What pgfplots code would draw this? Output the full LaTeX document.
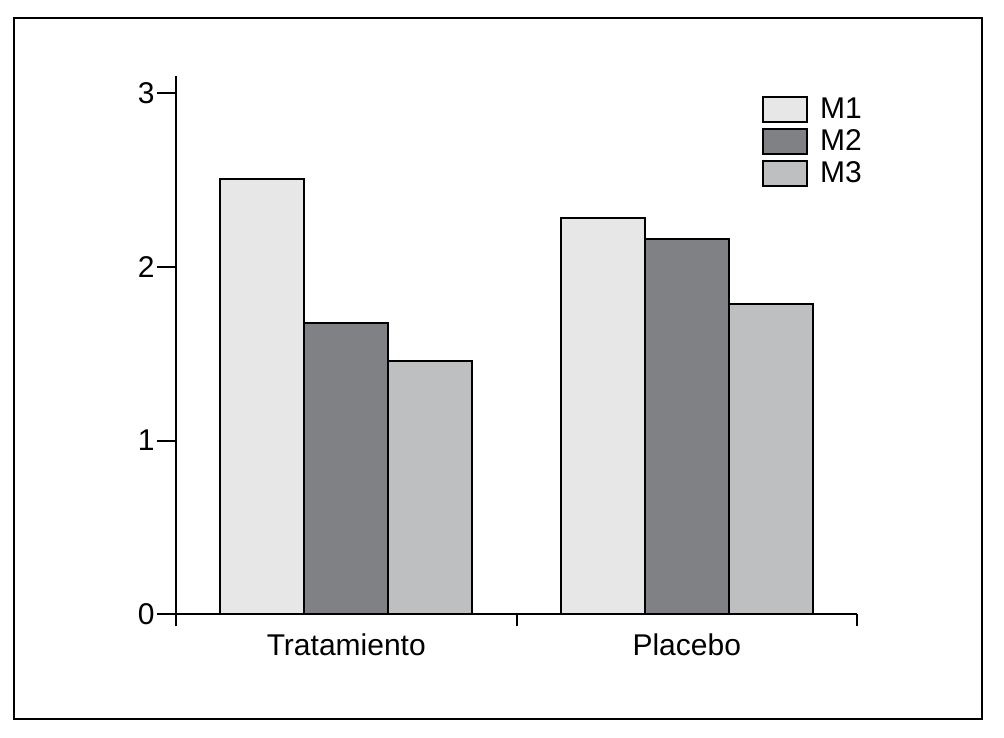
\documentclass[border=0pt]{standalone}
\usepackage{pgfplots}
\pgfplotsset{compat=1.18}
\usepackage{fontspec}
\setmainfont{Liberation Sans}
\definecolor{cM1}{RGB}{231,231,231}
\definecolor{cM2}{RGB}{128,129,132}
\definecolor{cM3}{RGB}{190,191,193}
\begin{document}
\begin{tikzpicture}
\path[use as bounding box] (0,0) rectangle (502pt,368.5pt);
\draw[line width=1pt] (7pt,9pt) rectangle (491pt,359.5pt);
\begin{axis}[
  at={(88pt,61.35pt)}, anchor=south west,
  scale only axis, width=340.5pt, height=269.15pt,
  xmin=0, xmax=2, ymin=0, ymax=3.1,
  axis lines=left, axis line style={-, line width=1pt},
  ytick={0,1,2,3},
  tick align=outside, major tick length=9.5pt, minor tick length=6pt,
  xtick={0.5,1.5}, xticklabels={Tratamiento,Placebo},
  minor xtick={0,1,2},
  major x tick style={draw=none},
  tick style={line width=1pt, black},
  ybar, bar width=0.247,
  /pgf/number format/assume math mode=true,
  yticklabel style={inner xsep=1pt},
  xticklabel style={yshift=3.5pt},
  font=\fontsize{15}{18}\selectfont,
  legend style={at={(axis cs:1.72,3.0)}, anchor=north west, draw=none, fill=none,
    font=\fontsize{15}{17}\selectfont, row sep=0pt, inner sep=0pt},
  legend cell align=left,
  legend image code/.code={\draw[#1] (0pt,-6.25pt) rectangle (22pt,6.25pt); \path (26pt,0pt);},
]
\addplot[fill=cM1, draw=black, line width=1pt, bar shift=-0.247] coordinates {(0.5,2.505) (1.5,2.282)};
\addplot[fill=cM2, draw=black, line width=1pt, bar shift=0] coordinates {(0.5,1.675) (1.5,2.163)};
\addplot[fill=cM3, draw=black, line width=1pt, bar shift=0.247] coordinates {(0.5,1.46) (1.5,1.789)};
\legend{M1,M2,M3}
\end{axis}
\end{tikzpicture}
\end{document}
